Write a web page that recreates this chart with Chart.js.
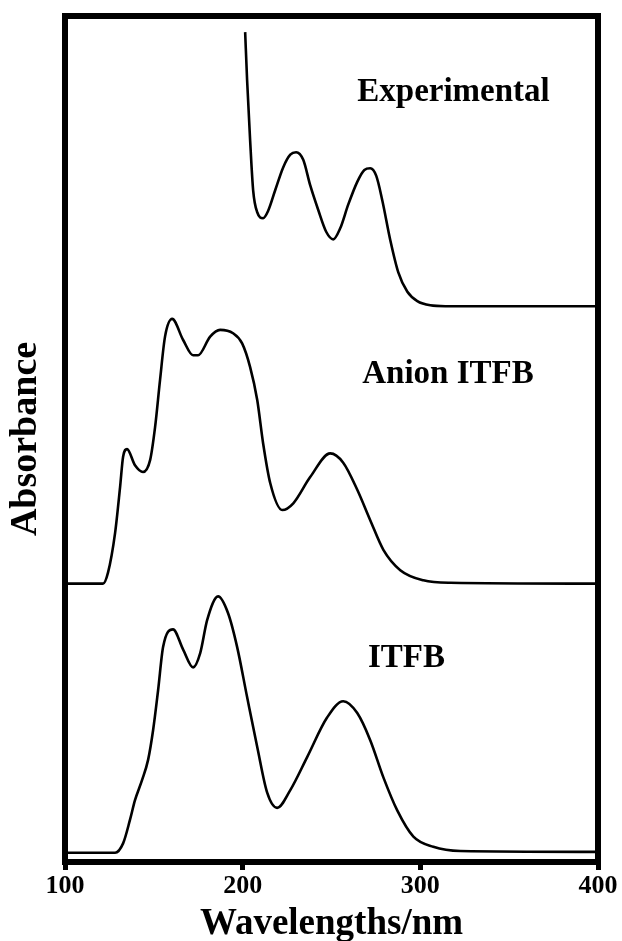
<!DOCTYPE html>
<html>
<head>
<meta charset="utf-8">
<script src="https://cdn.jsdelivr.net/npm/chart.js@4.4.1/dist/chart.umd.min.js"></script>
<style>
  html, body { margin: 0; padding: 0; background: #fff; }
  #wrap { width: 622px; height: 941px; }
</style>
</head>
<body>
<div id="wrap"><canvas id="spectraChart" width="622" height="941"></canvas></div>
<script>
// wavelengths (nm) and relative absorbance
const expWavelength = [201.4, 202.5, 204.2, 205.9, 208.2, 211.5, 214.4, 218.3, 222.8, 226.8, 230.1, 234.1, 238.0, 242.5, 247.0, 251.0, 254.9, 259.4, 264.5, 268.5, 271.8, 275.2, 278.6, 283.1, 287.6, 292.7, 298.3, 305.6, 314.1, 400];
const expAbs = [0.981, 0.924, 0.853, 0.794, 0.768, 0.761, 0.770, 0.794, 0.821, 0.836, 0.839, 0.830, 0.800, 0.771, 0.745, 0.736, 0.749, 0.777, 0.804, 0.818, 0.820, 0.811, 0.782, 0.735, 0.697, 0.674, 0.663, 0.658, 0.657, 0.657];

const anionWavelength = [100, 121.4, 124.2, 128.2, 131.0, 132.7, 134.9, 139.4, 143.9, 147.9, 150.7, 153.5, 156.3, 160.3, 166.5, 172.1, 174.9, 181.7, 187.3, 194.6, 199.7, 204.2, 208.2, 211.5, 215.5, 222.3, 228.5, 238.0, 249.3, 256.6, 264.5, 271.8, 279.2, 288.7, 301.7, 316.9, 400];
const anionAbs = [0.329, 0.329, 0.342, 0.389, 0.443, 0.479, 0.488, 0.469, 0.461, 0.475, 0.514, 0.570, 0.621, 0.642, 0.617, 0.599, 0.599, 0.621, 0.629, 0.625, 0.613, 0.585, 0.546, 0.495, 0.448, 0.416, 0.424, 0.455, 0.483, 0.472, 0.440, 0.404, 0.369, 0.345, 0.333, 0.330, 0.329];

const itfbWavelength = [100, 128.2, 132.7, 136.6, 139.4, 143.4, 146.8, 149.6, 152.4, 155.2, 160.8, 166.5, 172.1, 176.1, 180.0, 186.2, 191.8, 196.9, 202.5, 208.2, 213.8, 219.4, 226.8, 236.3, 247.6, 256.6, 264.5, 271.8, 279.2, 287.0, 296.1, 307.3, 322.5, 400];
const itfbAbs = [0.011, 0.011, 0.022, 0.050, 0.073, 0.097, 0.121, 0.156, 0.203, 0.254, 0.275, 0.251, 0.230, 0.247, 0.286, 0.314, 0.294, 0.254, 0.195, 0.136, 0.082, 0.064, 0.085, 0.124, 0.171, 0.190, 0.176, 0.144, 0.100, 0.061, 0.030, 0.018, 0.013, 0.012];

const xTicks = [100, 200, 300, 400];

// curve labels, anchored in data units (left edge, vertical middle)
const curveLabels = [
    { text: 'Experimental', x: 264.5, y: 0.910 },
    { text: 'Anion ITFB', x: 267.3, y: 0.576 },
    { text: 'ITFB', x: 270.5, y: 0.241 }
];

const serif = '"Liberation Serif", "DejaVu Serif", serif';

function toPoints(xs, ys) {
    return xs.map((x, i) => ({ x: x, y: ys[i] }));
}

function lineDataset(label, xs, ys) {
    return {
        label: label,
        data: toPoints(xs, ys),
        borderColor: '#000',
        borderWidth: 2.6,
        pointRadius: 0,
        fill: false,
        cubicInterpolationMode: 'monotone'
    };
}

const framePlugin = {
    id: 'frame',
    afterDatasetsDraw(chart) {
        const { ctx, chartArea } = chart;
        ctx.save();
        ctx.strokeStyle = '#000';
        ctx.lineWidth = 6;
        ctx.strokeRect(chartArea.left, chartArea.top, chartArea.right - chartArea.left, chartArea.bottom - chartArea.top);
        ctx.restore();
    }
};

const labelPlugin = {
    id: 'curveLabels',
    afterDatasetsDraw(chart) {
        const { ctx, scales } = chart;
        ctx.save();
        ctx.fillStyle = '#000';
        ctx.font = 'bold 33px ' + serif;
        ctx.textAlign = 'left';
        ctx.textBaseline = 'middle';
        curveLabels.forEach(l => {
            ctx.fillText(l.text, scales.x.getPixelForValue(l.x), scales.y.getPixelForValue(l.y));
        });
        ctx.restore();
    }
};

const ctx = document.getElementById('spectraChart').getContext('2d');
new Chart(ctx, {
    type: 'line',
    data: {
        datasets: [
            lineDataset('Experimental', expWavelength, expAbs),
            lineDataset('Anion ITFB', anionWavelength, anionAbs),
            lineDataset('ITFB', itfbWavelength, itfbAbs)
        ]
    },
    options: {
        responsive: false,
        animation: false,
        layout: { padding: { left: 0, right: 24, top: 16, bottom: 0 } },
        plugins: {
            legend: { display: false },
            tooltip: { enabled: false }
        },
        scales: {
            x: {
                type: 'linear',
                min: 100,
                max: 400,
                afterBuildTicks: (scale) => { scale.ticks = xTicks.map(v => ({ value: v })); },
                border: { display: false },
                grid: {
                    drawOnChartArea: false,
                    drawTicks: true,
                    tickLength: 8,
                    lineWidth: 5,
                    color: '#000'
                },
                ticks: {
                    color: '#000',
                    padding: 1,
                    maxRotation: 0,
                    font: { family: serif, size: 26, weight: 'bold' }
                },
                title: {
                    display: true,
                    text: 'Wavelengths/nm',
                    color: '#000',
                    padding: { top: 0, bottom: 0 },
                    font: { family: serif, size: 37, weight: 'bold', lineHeight: 0.9 }
                },
                afterFit: (scale) => { scale.height = 79; }
            },
            y: {
                type: 'linear',
                min: 0,
                max: 1,
                border: { display: false },
                grid: { display: false },
                ticks: { display: false },
                title: {
                    display: true,
                    text: 'Absorbance',
                    color: '#000',
                    padding: { top: 3, bottom: 0 },
                    font: { family: serif, size: 38, weight: 'bold' }
                },
                afterFit: (scale) => { scale.width = 65; }
            }
        }
    },
    plugins: [framePlugin, labelPlugin]
});
</script>
</body>
</html>
